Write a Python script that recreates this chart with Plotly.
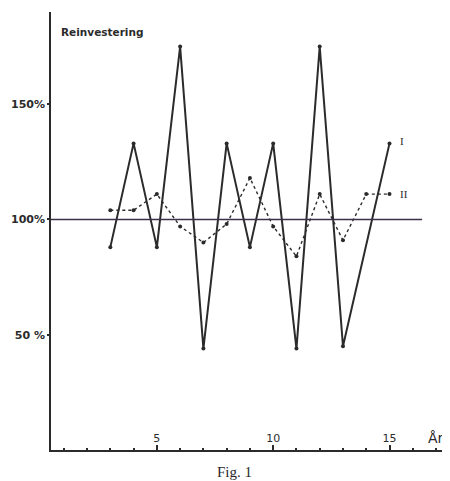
import plotly.graph_objects as go

# Data
years_I = [3, 4, 5, 6, 7, 8, 9, 10, 11, 12, 13, 15]
vals_I = [88, 133, 88, 175, 44, 133, 88, 133, 44, 175, 45, 133]

years_II = [3, 4, 5, 6, 7, 8, 9, 10, 11, 12, 13, 14, 15]
vals_II = [104, 104, 111, 97, 90, 98, 118, 97, 84, 111, 91, 111, 111]

y_tick_vals = [50, 100, 150]
y_tick_text = ["50 %", "100%", "150%"]
x_tick_vals = [5, 10, 15]
x_tick_text = ["5", "10", "15"]

ink = "#2b2b2b"
ref_col = "#3a3148"
hand_font = "DejaVu Sans"

fig = go.Figure()

fig.add_trace(go.Scatter(
    x=years_II, y=vals_II, mode="lines+markers", name="II",
    line=dict(color=ink, width=1.4, dash="dot"),
    marker=dict(color=ink, size=4),
    showlegend=False, cliponaxis=False,
))
fig.add_trace(go.Scatter(
    x=years_I, y=vals_I, mode="lines+markers", name="I",
    line=dict(color=ink, width=2),
    marker=dict(color=ink, size=4),
    showlegend=False, cliponaxis=False,
))

# 100% reference line
fig.add_shape(type="line", xref="x", yref="y", x0=0.45, x1=16.4, y0=100, y1=100,
              line=dict(color=ref_col, width=1.6))

fig.update_layout(
    width=442, height=473,
    margin=dict(l=43, r=0, t=4, b=31),
    paper_bgcolor="white", plot_bgcolor="white",
    xaxis=dict(
        range=[0.45, 17.6], showgrid=False, zeroline=False,
        showline=True, linecolor=ink, linewidth=1.6,
        tickvals=x_tick_vals, ticktext=x_tick_text,
        ticks="inside", ticklen=5, tickcolor=ink, tickwidth=1.5,
        ticklabelposition="inside",
        tickfont=dict(family=hand_font, size=11, color=ink),
        minor=dict(dtick=1, tick0=0, ticks="inside", ticklen=2, tickcolor=ink, tickwidth=1.5),
    ),
    yaxis=dict(
        range=[0, 190], showgrid=False, zeroline=False,
        showline=True, linecolor=ink, linewidth=1.6,
        tickvals=y_tick_vals, ticktext=["<b>%s</b>" % t for t in y_tick_text],
        ticks="outside", ticklen=2, tickcolor=ink, tickwidth=1.5,
        tickfont=dict(family=hand_font, size=11, color=ink),
    ),
    annotations=[
        dict(text="<b>Reinvestering</b>", xref="paper", yref="paper", x=0.02, y=0.955,
             xanchor="left", yanchor="middle", showarrow=False,
             font=dict(family=hand_font, size=10.5, color=ink)),
        dict(text="I", xref="x", yref="y", x=15.35, y=134, xanchor="left", yanchor="middle",
             showarrow=False, font=dict(family="Liberation Serif", size=11, color=ink)),
        dict(text="II", xref="x", yref="y", x=15.35, y=111, xanchor="left", yanchor="middle",
             showarrow=False, font=dict(family="Liberation Serif", size=11, color=ink)),
        dict(text="År", xref="x", yref="y", x=17.0, y=1, xanchor="center", yanchor="bottom",
             showarrow=False, font=dict(family=hand_font, size=14, color=ink)),
        dict(text="Fig. 1", xref="paper", yref="paper", x=0.46, y=-0.028,
             xanchor="center", yanchor="top", showarrow=False,
             font=dict(family="Liberation Serif", size=15, color=ink)),
    ],
)

fig.write_html("out.html")
